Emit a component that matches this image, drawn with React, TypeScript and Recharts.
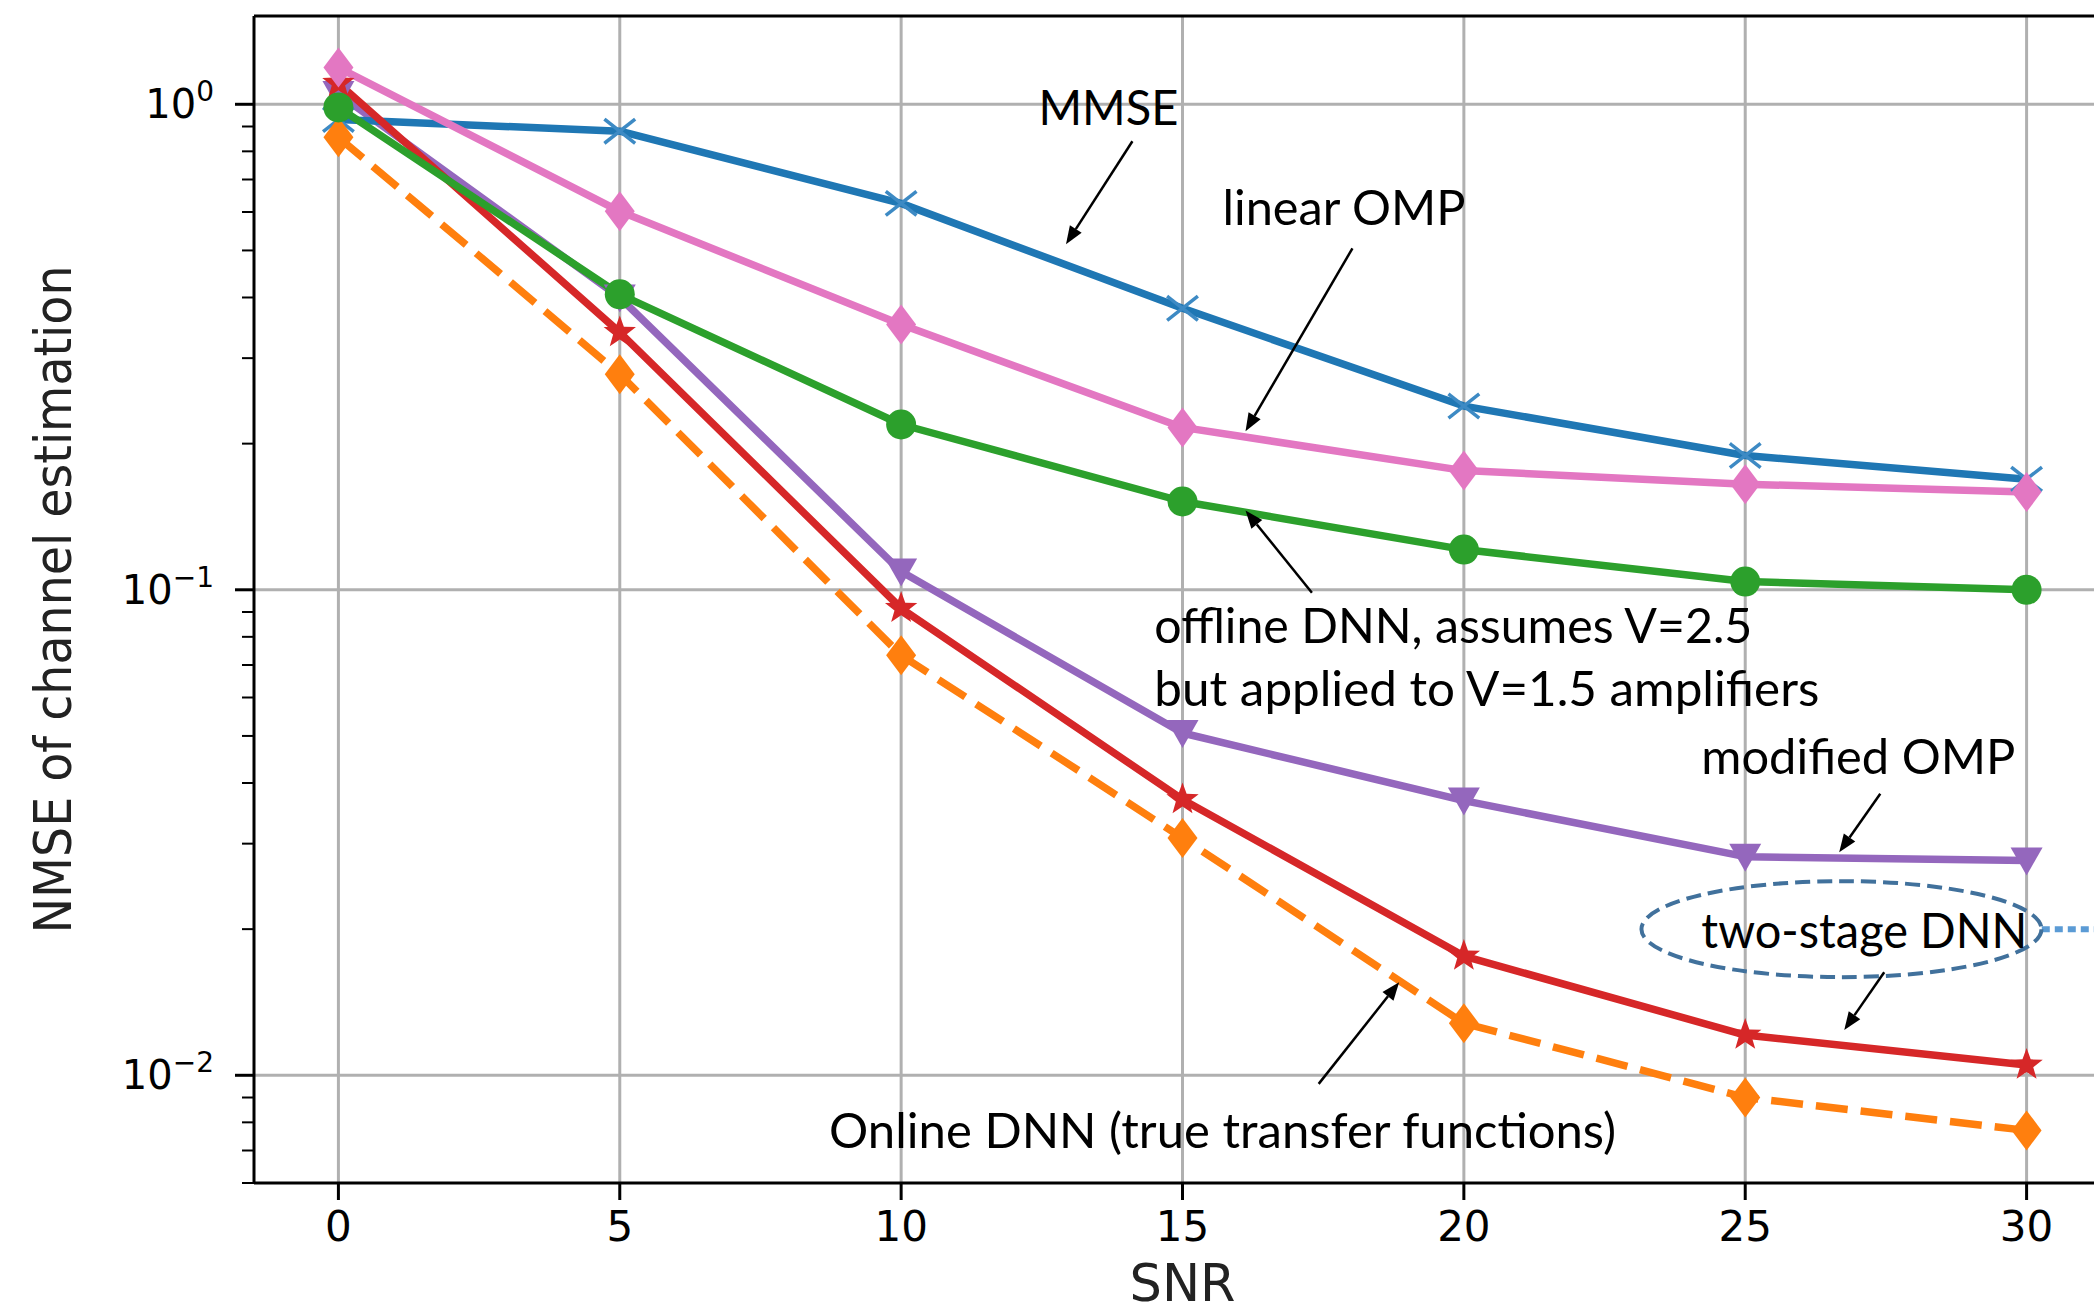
import React from 'react';
import {
  LineChart,
  Line,
  XAxis,
  YAxis,
  CartesianGrid,
  ReferenceLine,
  ReferenceDot,
  Label,
} from 'recharts';

// NMSE of channel estimation vs SNR (dB), one list per method
const SNR = [0, 5, 10, 15, 20, 25, 30];
const MMSE = [0.93, 0.88, 0.625, 0.38, 0.239, 0.189, 0.169];
const LINEAR_OMP = [1.19, 0.602, 0.352, 0.216, 0.176, 0.165, 0.159];
const OFFLINE_DNN = [0.985, 0.406, 0.219, 0.152, 0.121, 0.104, 0.1];
const MODIFIED_OMP = [1.05, 0.4, 0.109, 0.0507, 0.0368, 0.0282, 0.0277];
const TWO_STAGE_DNN = [1.105, 0.339, 0.0916, 0.037, 0.0176, 0.0121, 0.0105];
const ONLINE_DNN = [0.855, 0.278, 0.0733, 0.0308, 0.0128, 0.009, 0.0077];

const X_TICKS = [0, 5, 10, 15, 20, 25, 30];
const Y_MAJOR = [0.01, 0.1, 1];
const Y_MINOR = [
  0.006, 0.007, 0.008, 0.009, 0.02, 0.03, 0.04, 0.05, 0.06, 0.07, 0.08, 0.09,
  0.2, 0.3, 0.4, 0.5, 0.6, 0.7, 0.8, 0.9,
];
const X_DOMAIN: [number, number] = [-1.5, 31.5];
const Y_DOMAIN: [number, number] = [0.006, 1.52];

// callouts pasted on top of the figure (anchored in data coordinates)
const NOTES = [
  { x: 12.44, y: 0.905, text: 'MMSE', len: 140 },
  { x: 15.71, y: 0.564, text: 'linear OMP', len: 243 },
  { x: 14.5, y: 0.0776, text: 'offline DNN, assumes V=2.5', len: 598 },
  { x: 14.5, y: 0.0575, text: 'but applied to V=1.5 amplifiers', len: 665 },
  { x: 24.22, y: 0.0417, text: 'modified OMP', len: 314 },
  { x: 24.22, y: 0.0183, text: 'two-stage DNN', len: 326 },
  { x: 8.72, y: 0.0071, text: 'Online DNN (true transfer functions)', len: 787 },
];
const ARROWS = [
  { from: [14.11, 0.839], to: [12.93, 0.515] },
  { from: [18.02, 0.505], to: [16.12, 0.212] },
  { from: [17.3, 0.0986], to: [16.12, 0.1457] },
  { from: [27.4, 0.038], to: [26.67, 0.0288] },
  { from: [27.47, 0.0163], to: [26.76, 0.0124] },
  { from: [17.42, 0.0096], to: [18.85, 0.01555] },
];
const HIGHLIGHT = { x: 26.71, y: 0.02, edge: 30.27 };

const data = SNR.map((snr, i) => ({
  snr,
  mmse: MMSE[i],
  linearOmp: LINEAR_OMP[i],
  offline: OFFLINE_DNN[i],
  modified: MODIFIED_OMP[i],
  twoStage: TWO_STAGE_DNN[i],
  online: ONLINE_DNN[i],
}));

const C = {
  blue: '#1f77b4',
  orange: '#ff7f0e',
  green: '#2ca02c',
  red: '#d62728',
  purple: '#9467bd',
  pink: '#e377c2',
};

const FONT = '"DejaVu Sans", sans-serif';
const NOTE_FONT = 'Lato, "Open Sans", sans-serif';
const LW = 7.5;

const starPoints = (cx: number, cy: number, R: number, r: number) => {
  const pts: string[] = [];
  for (let k = 0; k < 10; k++) {
    const a = -Math.PI / 2 + (k * Math.PI) / 5;
    const rad = k % 2 === 0 ? R : r;
    pts.push(`${cx + rad * Math.cos(a)},${cy + rad * Math.sin(a)}`);
  }
  return pts.join(' ');
};

const xMark = (p: any) => (
  <g key={`x-${p.index}`} stroke="#3d8ac4" strokeWidth={3.5} strokeLinecap="square">
    <line x1={p.cx - 14} y1={p.cy - 11} x2={p.cx + 14} y2={p.cy + 11} />
    <line x1={p.cx - 14} y1={p.cy + 11} x2={p.cx + 14} y2={p.cy - 11} />
  </g>
);
const diamond = (color: string) => (p: any) => (
  <polygon
    key={`d-${color}-${p.index}`}
    points={`${p.cx},${p.cy - 20} ${p.cx + 15},${p.cy} ${p.cx},${p.cy + 20} ${p.cx - 15},${p.cy}`}
    fill={color}
  />
);
const dotMark = (p: any) => (
  <circle key={`c-${p.index}`} cx={p.cx} cy={p.cy} r={15} fill={C.green} />
);
const triDown = (p: any) => (
  <polygon
    key={`v-${p.index}`}
    points={`${p.cx - 16},${p.cy - 13} ${p.cx + 16},${p.cy - 13} ${p.cx},${p.cy + 15}`}
    fill={C.purple}
  />
);
const starMark = (p: any) => (
  <polygon key={`s-${p.index}`} points={starPoints(p.cx, p.cy, 17, 7)} fill={C.red} />
);

const YTick = (p: any) => {
  const { x, y, payload } = p;
  const v = payload.value;
  if (!Y_MAJOR.includes(v)) {
    return <line x1={x - 12} y1={y} x2={x} y2={y} stroke="#000" strokeWidth={2} />;
  }
  const exp = Math.round(Math.log10(v));
  return (
    <g>
      <line x1={x - 19} y1={y} x2={x} y2={y} stroke="#000" strokeWidth={3} />
      <text x={x - 40} y={y + 14} textAnchor="end" fontFamily={FONT} fill="#000">
        <tspan fontSize={40}>10</tspan>
        <tspan fontSize={28} dy={-17}>
          {exp === 0 ? '0' : `\u2212${-exp}`}
        </tspan>
      </text>
    </g>
  );
};

const XTick = (p: any) => (
  <text
    x={p.x}
    y={p.y + 41}
    textAnchor="middle"
    fontFamily={FONT}
    fontSize={42}
    fill="#000"
  >
    {p.payload.value}
  </text>
);

const XTitle = (p: any) => {
  const vb = p.viewBox;
  return (
    <text
      x={vb.x + vb.width / 2}
      y={vb.y + vb.height - 12}
      textAnchor="middle"
      fontFamily={FONT}
      fontSize={51}
      fill="#222"
    >
      SNR
    </text>
  );
};

const YTitle = (p: any) => {
  const vb = p.viewBox;
  const cx = vb.x + 53;
  const cy = vb.y + vb.height / 2;
  return (
    <text
      x={cx}
      y={cy}
      transform={`rotate(-90, ${cx}, ${cy})`}
      textAnchor="middle"
      dominantBaseline="central"
      fontFamily={FONT}
      fontSize={52}
      textLength={668}
      lengthAdjust="spacingAndGlyphs"
      fill="#222"
    >
      NMSE of channel estimation
    </text>
  );
};

const Arrow = (p: any) => {
  const { x1, y1, x2, y2 } = p;
  const a = Math.atan2(y2 - y1, x2 - x1);
  const L = 18;
  const W = 7;
  const bx = x2 - L * Math.cos(a);
  const by = y2 - L * Math.sin(a);
  const nx = -Math.sin(a) * W;
  const ny = Math.cos(a) * W;
  return (
    <g>
      <line x1={x1} y1={y1} x2={bx} y2={by} stroke="#000" strokeWidth={2.5} />
      <polygon points={`${x2},${y2} ${bx + nx},${by + ny} ${bx - nx},${by - ny}`} fill="#000" />
    </g>
  );
};

export default function App() {
  return (
    <div
      style={{
        position: 'absolute',
        left: 0,
        top: 0,
        width: 2094,
        height: 1313,
        overflow: 'hidden',
        background: '#fff',
      }}
    >
      <LineChart
        width={2140}
        height={1313}
        data={data}
        margin={{ top: 16, right: 29, bottom: 0, left: 0 }}
      >
        <CartesianGrid
          stroke="#b0b0b0"
          strokeWidth={3}
          horizontalValues={Y_MAJOR}
          verticalValues={X_TICKS}
        />
        <XAxis
          dataKey="snr"
          type="number"
          domain={X_DOMAIN}
          allowDataOverflow
          ticks={X_TICKS}
          interval={0}
          height={130}
          tickSize={17}
          tickMargin={0}
          tickLine={{ stroke: '#000', strokeWidth: 3 }}
          axisLine={{ stroke: '#000', strokeWidth: 3 }}
          tick={XTick}
        >
          <Label content={XTitle} />
        </XAxis>
        <YAxis
          type="number"
          scale="log"
          domain={Y_DOMAIN}
          allowDataOverflow
          ticks={[...Y_MINOR, ...Y_MAJOR].sort((a, b) => a - b)}
          interval={0}
          width={254}
          tickSize={0}
          tickMargin={0}
          tickLine={false}
          axisLine={{ stroke: '#000', strokeWidth: 3 }}
          tick={YTick}
        >
          <Label content={YTitle} />
        </YAxis>
        <ReferenceLine y={Y_DOMAIN[1]} stroke="#000" strokeWidth={3} />

        <Line
          dataKey="modified"
          stroke={C.purple}
          strokeWidth={LW}
          strokeLinejoin="round"
          dot={triDown}
          activeDot={false}
          isAnimationActive={false}
        />
        <Line
          dataKey="mmse"
          stroke={C.blue}
          strokeWidth={LW}
          strokeLinejoin="round"
          dot={xMark}
          activeDot={false}
          isAnimationActive={false}
        />
        <Line
          dataKey="online"
          stroke={C.orange}
          strokeWidth={LW}
          strokeDasharray="32 13"
          dot={diamond(C.orange)}
          activeDot={false}
          isAnimationActive={false}
        />
        <Line
          dataKey="twoStage"
          stroke={C.red}
          strokeWidth={LW}
          strokeLinejoin="round"
          dot={starMark}
          activeDot={false}
          isAnimationActive={false}
        />
        <Line
          dataKey="offline"
          stroke={C.green}
          strokeWidth={LW}
          strokeLinejoin="round"
          dot={dotMark}
          activeDot={false}
          isAnimationActive={false}
        />
        <Line
          dataKey="linearOmp"
          stroke={C.pink}
          strokeWidth={LW}
          strokeLinejoin="round"
          dot={diamond(C.pink)}
          activeDot={false}
          isAnimationActive={false}
        />

        {ARROWS.map((a, i) => (
          <ReferenceLine
            key={`arrow-${i}`}
            segment={[
              { x: a.from[0], y: a.from[1] },
              { x: a.to[0], y: a.to[1] },
            ]}
            shape={Arrow}
          />
        ))}
        <ReferenceDot
          x={HIGHLIGHT.x}
          y={HIGHLIGHT.y}
          r={0}
          shape={(p: any) => (
            <ellipse
              cx={p.cx}
              cy={p.cy}
              rx={200}
              ry={48}
              fill="none"
              stroke="#41719c"
              strokeWidth={4}
              strokeDasharray="15 7"
            />
          )}
        />
        <ReferenceLine
          segment={[
            { x: HIGHLIGHT.edge, y: HIGHLIGHT.y },
            { x: X_DOMAIN[1], y: HIGHLIGHT.y },
          ]}
          stroke="#5b9bd5"
          strokeWidth={6}
          strokeDasharray="8 5"
        />
        {NOTES.map((n, i) => (
          <ReferenceDot
            key={`note-${i}`}
            x={n.x}
            y={n.y}
            r={0}
            shape={(p: any) => (
              <text
                x={p.cx}
                y={p.cy}
                fontFamily={NOTE_FONT}
                fontSize={48}
                fill="#000"
                textLength={n.len}
                lengthAdjust="spacingAndGlyphs"
              >
                {n.text}
              </text>
            )}
          />
        ))}
      </LineChart>
    </div>
  );
}
